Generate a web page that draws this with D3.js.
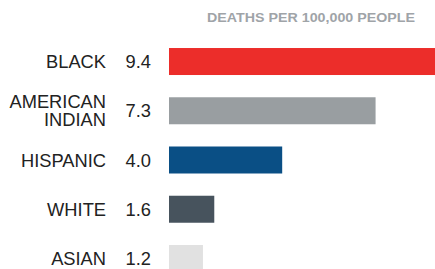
<!DOCTYPE html>
<html><head><meta charset="utf-8">
<script src="https://cdn.jsdelivr.net/npm/d3@7"></script>
<style>html,body{margin:0;padding:0;background:#fff;}svg{display:block;}</style>
</head><body>
<script>
const categories = [["BLACK"], ["AMERICAN", "INDIAN"], ["HISPANIC"], ["WHITE"], ["ASIAN"]];
const values = [9.4, 7.3, 4.0, 1.6, 1.2];
const valueLabels = ["9.4", "7.3", "4.0", "1.6", "1.2"];
const colors = ["#ec2d2a", "#999ea1", "#0a4f85", "#47535d", "#e1e1e1"];
const title = "DEATHS PER 100,000 PEOPLE";

const W = 435, H = 269;
const svg = d3.select("body").append("svg").attr("width", W).attr("height", H);
const font = "'Liberation Sans', Arial, Helvetica, sans-serif";

const x = d3.scaleLinear().domain([0, 9.4]).range([169, 435]);
const y = d3.scaleBand().domain(d3.range(values.length)).range([36.9, 283.1]).padding(0);

svg.append("text").attr("x", 415).attr("y", 22.3).attr("text-anchor", "end")
  .attr("font-family", font).attr("font-weight", "bold").attr("font-size", 13.3)
  .attr("textLength", 208).attr("lengthAdjust", "spacingAndGlyphs")
  .attr("fill", "#9fa4a8").text(title);

const bh = 27;
const g = svg.selectAll("g.row").data(values).enter().append("g");
g.append("rect")
  .attr("x", x(0))
  .attr("y", (d, i) => y(i) + y.bandwidth() / 2 - bh / 2)
  .attr("width", d => x(d) - x(0))
  .attr("height", bh)
  .attr("fill", (d, i) => colors[i]);

const fs = 18.3;
g.append("text")
  .attr("x", 151)
  .attr("y", (d, i) => y(i) + y.bandwidth() / 2 + fs * 0.36)
  .attr("text-anchor", "end").attr("font-family", font).attr("font-size", fs)
  .attr("fill", "#222").text((d, i) => valueLabels[i]);

g.each(function(d, i) {
  const lines = categories[i];
  const cy = y(i) + y.bandwidth() / 2;
  const lh = 18.3;
  const t = d3.select(this).append("text")
    .attr("text-anchor", "end").attr("font-family", font).attr("font-size", fs).attr("fill", "#222");
  lines.forEach((l, j) => {
    t.append("tspan").attr("x", 106)
      .attr("y", cy + fs * 0.36 + (j - (lines.length - 1) / 2) * lh)
      .text(l);
  });
});
</script>
</body></html>
